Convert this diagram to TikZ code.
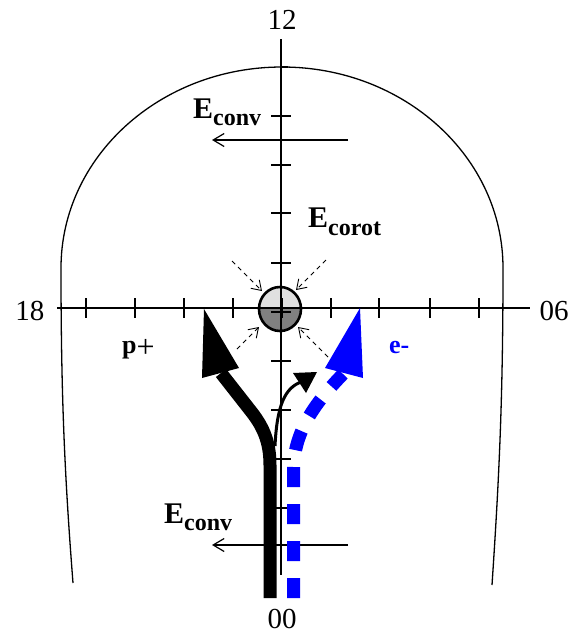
\documentclass[tikz,border=0pt]{standalone}
\usepackage{fontspec}
\setmainfont{Liberation Serif}
\usetikzlibrary{arrows.meta}
\definecolor{eblue}{RGB}{0,0,255}
\definecolor{lightfill}{gray}{0.88}
\definecolor{darkfill}{gray}{0.5}
\begin{document}
\begin{tikzpicture}[x=1pt,y=-1pt,
  axisline/.style={line width=1.4pt},
  tickmark/.style={line width=1.2pt},
  boundary/.style={line width=1.3pt},
  efield/.style={line width=1.2pt,-{Straight Barb[length=11pt,width=13pt,line width=1.2pt]}},
  inarrow/.style={line width=0.9pt,dash pattern=on 4.5pt off 4pt,-{Straight Barb[length=9pt,width=12pt,line width=0.9pt]}},
  numlabel/.style={inner sep=0pt,anchor=base,font=\fontsize{29}{29}\selectfont},
  elabel/.style={inner sep=0pt,anchor=base west,font=\fontsize{30}{30}\selectfont\bfseries},
  plabel/.style={inner sep=0pt,anchor=base west,font=\fontsize{26}{26}\selectfont\bfseries}
]
\useasboundingbox (0,0) rectangle (580,633);

% boundary
\draw[boundary] (73,583) .. controls (65,480) and (61,400) .. (61,268)
  arc[start angle=180,end angle=360,x radius=221,y radius=201]
  .. controls (503,400) and (499,480) .. (492,585);

% central body
\begin{scope}
  \clip (255,309) rectangle (306,283);
  \fill[lightfill] (280,309) ellipse [x radius=21pt,y radius=22pt];
\end{scope}
\begin{scope}
  \clip (255,309) rectangle (306,335);
  \fill[darkfill] (280,309) ellipse [x radius=21pt,y radius=22pt];
\end{scope}
\draw[line width=2.6pt] (280,309) ellipse [x radius=21pt,y radius=22pt];

% axes
\coordinate (vtop) at (281,39);
\coordinate (vbot) at (281,575);
\coordinate (hleft) at (57,308);
\coordinate (hright) at (530,308);
\draw[axisline] (vtop) -- (vbot);
\draw[axisline] (hleft) -- (hright);
\foreach \yy in {116,165,213,263,312,361,410,459,508}
  \draw[tickmark] (271,\yy) -- (291,\yy);
\draw[tickmark] (281,67) -- (288,67);
\foreach \xx in {86,135,184,233,282,331,379,430,479}
  \draw[tickmark] (\xx,298) -- (\xx,318);

% hour labels
\node[numlabel] (n12) at (282,29) {12};
\node[numlabel] (n18) at (30,320) {18};
\node[numlabel] (n06) at (554,320) {06};
\node[numlabel] (n00) at (282,628) {00};

% convection field arrows
\coordinate (ecu1) at (348,140);
\coordinate (ecu2) at (212,140);
\coordinate (ecl1) at (348,545);
\coordinate (ecl2) at (212,545);
\draw[efield] (ecu1) -- (ecu2);
\draw[efield] (ecl1) -- (ecl2);

% corotation field arrows
\coordinate (tl1) at (232,261); \coordinate (tl2) at (262,291);
\coordinate (tr1) at (326,260); \coordinate (tr2) at (296,290);
\coordinate (bl1) at (237,349); \coordinate (bl2) at (259,327);
\coordinate (br1) at (328,357); \coordinate (br2) at (298,327);
\draw[inarrow] (tl1) -- (tl2);
\draw[inarrow] (tr1) -- (tr2);
\draw[inarrow] (bl1) -- (bl2);
\draw[inarrow] (br1) -- (br2);

% proton flow (thick black)
\coordinate (pstart) at (270,598);
\coordinate (pbend) at (270,465);
\coordinate (pdiag) at (250,410);
\coordinate (pend) at (221,373);
\draw[line width=13pt] (pstart) -- (pbend) .. controls (270,440) and (262,425) .. (pdiag) -- (pend);
\fill (204,309) -- (202,378) -- (239,368) -- cycle;

% thin black branch
\coordinate (tstart) at (275,446);
\coordinate (tend) at (301,382);
\draw[line width=3pt] (tstart) .. controls (277,405) and (285,388) .. (tend);
\fill (317,372) -- (293,373) -- (306,393) -- cycle;

% electron flow (blue dashed)
\coordinate (estart) at (293.5,598);
\coordinate (ebend) at (293.5,470);
\coordinate (eend) at (343,374);
\draw[eblue,line width=13pt,dash pattern=on 20pt off 17pt] (estart) -- (ebend) .. controls (293.5,430) and (318,400) .. (eend);
\fill[eblue] (360,308) -- (325,368) -- (363,378) -- cycle;

% labels
\node[elabel] (econvu) at (193,118) {E\raisebox{-7pt}{\fontsize{24}{24}\selectfont conv}};
\node[elabel] (ecorot) at (308,227) {E\raisebox{-8pt}{\fontsize{24}{24}\selectfont corot}};
\node[elabel] (econvl) at (164,523) {E\raisebox{-7pt}{\fontsize{24}{24}\selectfont conv}};
\node[plabel] (pplus) at (122,353) {p{\fontsize{32}{32}\selectfont\mdseries\raisebox{-4pt}{+}}};
\node[plabel,text=eblue] (eminus) at (389,353) {e-};
\end{tikzpicture}
\end{document}
